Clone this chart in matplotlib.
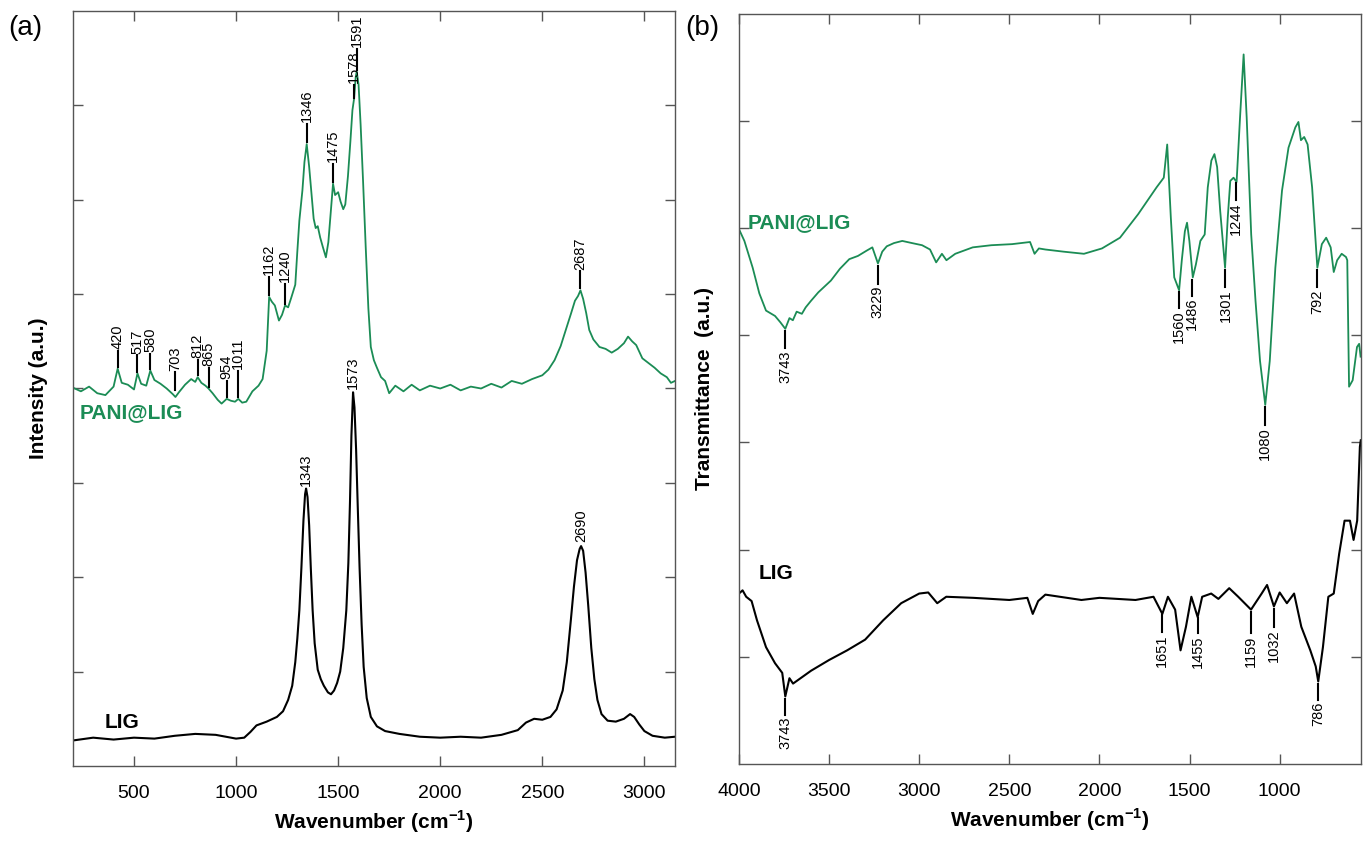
import numpy as np
import matplotlib
matplotlib.use("Agg")
import matplotlib.pyplot as plt

plt.rcParams['font.family'] = ['Liberation Sans', 'DejaVu Sans']
plt.rcParams['mathtext.fontset'] = 'custom'
plt.rcParams['mathtext.rm'] = 'Liberation Sans'
plt.rcParams['mathtext.bf'] = 'Liberation Sans:bold'

GREEN = '#1b8c55'
SPINE = '#555555'

# ---- (a) Raman ----
raman_pani_x = [200, 240, 280, 320, 360, 400, 420, 440, 470, 500, 517, 535, 560, 580, 600,
                630, 660, 690, 703, 720, 750, 780, 800, 812, 830, 850, 865, 885, 910, 929,
                954, 975, 995, 1011, 1030, 1050, 1080, 1110, 1130, 1150, 1162, 1175, 1190,
                1210, 1225, 1240, 1255, 1270, 1290, 1300, 1310, 1325, 1335, 1346, 1358, 1370,
                1380, 1390, 1400, 1412, 1425, 1440, 1452, 1465, 1475, 1485, 1500, 1512, 1525,
                1535, 1548, 1560, 1570, 1578, 1586, 1591, 1600, 1610, 1622, 1635, 1648, 1660,
                1675, 1690, 1710, 1730, 1750, 1780, 1820, 1860, 1900, 1950, 2000, 2050, 2100,
                2150, 2200, 2250, 2300, 2350, 2400, 2450, 2500, 2530, 2560, 2590, 2615, 2640,
                2660, 2675, 2687, 2700, 2715, 2730, 2750, 2780, 2810, 2840, 2870, 2900, 2920,
                2940, 2960, 2990, 3020, 3050, 3080, 3110, 3130, 3150]
raman_pani_y = [4.01, 3.97, 4.02, 3.95, 3.93, 4.02, 4.21, 4.06, 4.04, 3.99, 4.16, 4.05, 4.03,
                4.19, 4.09, 4.05, 4.00, 3.94, 3.91, 3.96, 4.04, 4.10, 4.07, 4.12, 4.06, 4.03,
                4.00, 3.95, 3.88, 3.84, 3.89, 3.87, 3.86, 3.89, 3.85, 3.86, 3.97, 4.03, 4.10,
                4.40, 4.97, 4.92, 4.88, 4.72, 4.78, 4.88, 4.86, 4.96, 5.10, 5.45, 5.78, 6.10,
                6.40, 6.59, 6.35, 6.05, 5.80, 5.70, 5.72, 5.60, 5.50, 5.39, 5.55, 5.90, 6.17,
                6.05, 6.08, 5.98, 5.90, 5.95, 6.25, 6.62, 6.95, 7.07, 7.30, 7.36, 7.22, 6.80,
                6.20, 5.50, 4.85, 4.44, 4.30, 4.22, 4.12, 4.08, 3.95, 4.03, 3.97, 4.04, 3.98,
                4.03, 4.00, 4.04, 3.98, 4.02, 4.00, 4.05, 4.01, 4.08, 4.05, 4.10, 4.14, 4.20,
                4.30, 4.45, 4.62, 4.79, 4.93, 4.98, 5.04, 4.95, 4.80, 4.62, 4.52, 4.44, 4.42,
                4.38, 4.42, 4.48, 4.55, 4.50, 4.46, 4.32, 4.27, 4.22, 4.16, 4.12, 4.06, 4.08]

raman_lig_x = [200, 300, 400, 500, 600, 700, 800, 900, 1000, 1040, 1070, 1100, 1150, 1200,
               1230, 1255, 1275, 1290, 1300, 1310, 1320, 1330, 1338, 1343, 1350, 1358, 1366,
               1375, 1385, 1400, 1415, 1430, 1450, 1465, 1480, 1495, 1510, 1525, 1540, 1550,
               1558, 1565, 1573, 1580, 1588, 1596, 1605, 1615, 1625, 1640, 1660, 1690, 1730,
               1800, 1900, 2000, 2100, 2200, 2300, 2380, 2420, 2460, 2500, 2540, 2570, 2600,
               2620, 2640, 2655, 2670, 2683, 2690, 2700, 2712, 2725, 2740, 2755, 2770, 2790,
               2820, 2860, 2900, 2930, 2950, 2975, 3000, 3040, 3100, 3150]
raman_lig_y = [0.27, 0.30, 0.28, 0.30, 0.29, 0.32, 0.34, 0.33, 0.29, 0.30, 0.36, 0.43, 0.47,
               0.52, 0.58, 0.70, 0.85, 1.10, 1.35, 1.65, 2.10, 2.60, 2.88, 2.94, 2.85, 2.55,
               2.10, 1.65, 1.30, 1.02, 0.92, 0.85, 0.78, 0.76, 0.80, 0.88, 1.00, 1.25, 1.65,
               2.15, 2.80, 3.50, 3.96, 3.80, 3.35, 2.75, 2.10, 1.50, 1.05, 0.72, 0.52, 0.42,
               0.37, 0.34, 0.31, 0.30, 0.31, 0.30, 0.33, 0.38, 0.46, 0.50, 0.49, 0.52, 0.60,
               0.80, 1.10, 1.55, 1.90, 2.18, 2.30, 2.33, 2.28, 2.05, 1.70, 1.25, 0.92, 0.70,
               0.55, 0.48, 0.47, 0.50, 0.55, 0.52, 0.44, 0.37, 0.32, 0.30, 0.31]

# peak labels: (value, line start, line end)
raman_pani_peaks = [(420, 4.23, 4.40), (517, 4.18, 4.35), (580, 4.21, 4.37), (703, 3.98, 4.17),
                    (812, 4.14, 4.30), (865, 4.02, 4.22), (954, 3.91, 4.08), (1011, 3.91, 4.19),
                    (1162, 4.99, 5.18), (1240, 4.90, 5.11), (1346, 6.61, 6.80),
                    (1475, 6.19, 6.38), (1578, 7.08, 7.22), (1591, 7.38, 7.60),
                    (2687, 5.06, 5.24)]
raman_lig_peaks = [(1343, 2.97), (1573, 3.99), (2690, 2.37)]

# ---- (b) FTIR ----
ftir_pani_x = [4000, 3970, 3924, 3887, 3850, 3800, 3770, 3743, 3720, 3701, 3680, 3651, 3630,
               3601, 3560, 3490, 3440, 3388, 3340, 3291, 3260, 3229, 3205, 3180, 3140, 3094,
               3040, 2984, 2940, 2906, 2874, 2849, 2800, 2703, 2600, 2485, 2385, 2360, 2336,
               2300, 2200, 2086, 1986, 1886, 1785, 1683, 1643, 1624, 1604, 1585, 1558, 1543,
               1526, 1514, 1501, 1482, 1465, 1440, 1416, 1399, 1379, 1362, 1347, 1330, 1303,
               1288, 1274, 1256, 1239, 1220, 1200, 1183, 1158, 1134, 1109, 1080, 1055, 1024,
               987, 951, 913, 896, 882, 864, 845, 820, 803, 791, 766, 742, 717, 700, 681, 656,
               632, 625, 615, 595, 571, 559, 551]
ftir_pani_y = [4.99, 4.88, 4.63, 4.39, 4.23, 4.18, 4.12, 4.06, 4.16, 4.14, 4.22, 4.20, 4.26,
               4.32, 4.40, 4.51, 4.62, 4.71, 4.74, 4.79, 4.82, 4.67, 4.78, 4.83, 4.86, 4.88,
               4.86, 4.84, 4.80, 4.68, 4.76, 4.70, 4.76, 4.82, 4.84, 4.85, 4.87, 4.76, 4.81,
               4.80, 4.78, 4.76, 4.81, 4.91, 5.13, 5.38, 5.47, 5.78, 5.10, 4.54, 4.42, 4.70,
               4.97, 5.05, 4.88, 4.54, 4.66, 4.88, 4.94, 5.38, 5.63, 5.69, 5.57, 5.16, 4.63,
               5.10, 5.44, 5.47, 5.43, 6.03, 6.62, 6.03, 4.94, 4.32, 3.76, 3.35, 3.76, 4.63,
               5.35, 5.75, 5.94, 5.99, 5.82, 5.85, 5.78, 5.38, 4.94, 4.63, 4.85, 4.91, 4.82,
               4.59, 4.70, 4.76, 4.73, 4.70, 3.52, 3.58, 3.89, 3.92, 3.80]

ftir_lig_x = [4000, 3980, 3960, 3930, 3900, 3850, 3800, 3760, 3743, 3720, 3700, 3650, 3600,
              3500, 3400, 3300, 3200, 3100, 3000, 2950, 2900, 2850, 2700, 2500, 2400, 2370,
              2340, 2300, 2100, 2000, 1800, 1700, 1651, 1620, 1580, 1550, 1520, 1490, 1455,
              1430, 1380, 1340, 1280, 1230, 1159, 1100, 1070, 1032, 1000, 960, 920, 880, 830,
              800, 786, 760, 730, 700, 670, 640, 610, 590, 570, 555, 550]
ftir_lig_y = [1.59, 1.62, 1.56, 1.52, 1.34, 1.09, 0.94, 0.85, 0.63, 0.80, 0.75, 0.81, 0.87,
              0.97, 1.06, 1.16, 1.34, 1.50, 1.59, 1.60, 1.50, 1.56, 1.55, 1.53, 1.55, 1.40,
              1.52, 1.58, 1.53, 1.55, 1.53, 1.56, 1.40, 1.56, 1.44, 1.06, 1.28, 1.56, 1.37,
              1.56, 1.59, 1.54, 1.64, 1.56, 1.44, 1.59, 1.67, 1.47, 1.60, 1.50, 1.59, 1.28,
              1.06, 0.91, 0.77, 1.09, 1.56, 1.59, 1.96, 2.27, 2.27, 2.09, 2.27, 2.96, 3.02]

ftir_pani_peaks = [(3743, 4.04, 3.88), (3229, 4.65, 4.48), (1560, 4.40, 4.25), (1486, 4.52, 4.37),
                   (1301, 4.61, 4.45), (1244, 5.42, 5.26), (1080, 3.33, 3.16), (792, 4.61, 4.45)]
ftir_lig_peaks = [(3743, 0.61, 0.46), (1651, 1.39, 1.23), (1455, 1.36, 1.22), (1159, 1.42, 1.22),
                  (1032, 1.45, 1.28), (786, 0.75, 0.60)]


def style_axes(ax):
    for s in ax.spines.values():
        s.set_color(SPINE)
        s.set_linewidth(1.0)
    ax.tick_params(direction='in', length=7, width=1.0, color=SPINE,
                   top=True, right=True, labelsize=14)
    ax.tick_params(axis='x', pad=14)
    ax.tick_params(axis='y', pad=9)
    ax.set_yticklabels([])


fig = plt.figure(figsize=(13.7, 8.41), dpi=100)

# panel (a)
ax1 = fig.add_axes([0.0531, 0.0892, 0.4396, 0.8977])
ax1.plot(raman_pani_x, raman_pani_y, color=GREEN, lw=1.3)
ax1.plot(raman_lig_x, raman_lig_y, color='black', lw=1.5)
ax1.set_xlim(200, 3150)
ax1.set_ylim(0, 8)
ax1.set_xticks([500, 1000, 1500, 2000, 2500, 3000])
ax1.set_yticks([1, 2, 3, 4, 5, 6, 7])
style_axes(ax1)
for v, y0, y1 in raman_pani_peaks:
    ax1.plot([v, v], [y0, y1], color='black', lw=1.5)
    ax1.text(v, y1 + 0.02, str(v), rotation=90, ha='center', va='bottom', fontsize=10.5)
for v, y0 in raman_lig_peaks:
    ax1.text(v, y0, str(v), rotation=90, ha='center', va='bottom', fontsize=10.5)
ax1.text(236, 3.74, 'PANI@LIG', color=GREEN, fontsize=15, fontweight='bold', va='center')
ax1.text(358, 0.46, 'LIG', color='black', fontsize=15, fontweight='bold', va='center')
ax1.set_xlabel(r'Wavenumber (cm$^{\mathbf{-1}}$)', fontsize=15, fontweight='bold', labelpad=4)
ax1.set_ylabel('Intensity (a.u.)', fontsize=15, fontweight='bold', labelpad=9)

# panel (b)
ax2 = fig.add_axes([0.5394, 0.0916, 0.4540, 0.8921])
ax2.plot(ftir_pani_x, ftir_pani_y, color=GREEN, lw=1.3)
ax2.plot(ftir_lig_x, ftir_lig_y, color='black', lw=1.5)
ax2.set_xlim(4000, 549)
ax2.set_ylim(0, 7)
ax2.set_xticks([4000, 3500, 3000, 2500, 2000, 1500, 1000])
ax2.set_yticks([1, 2, 3, 4, 5, 6])
style_axes(ax2)
for v, y0, y1 in ftir_pani_peaks + ftir_lig_peaks:
    ax2.plot([v, v], [y0, y1], color='black', lw=1.5)
    ax2.text(v, y1 - 0.02, str(v), rotation=90, ha='center', va='top', fontsize=10.5)
ax2.text(3950, 5.05, 'PANI@LIG', color=GREEN, fontsize=15, fontweight='bold', va='center')
ax2.text(3889, 1.78, 'LIG', color='black', fontsize=15, fontweight='bold', va='center')
ax2.set_xlabel(r'Wavenumber (cm$^{\mathbf{-1}}$)', fontsize=15, fontweight='bold', labelpad=4)
ax2.set_ylabel('Transmittance  (a.u.)', fontsize=15, fontweight='bold', labelpad=9)

fig.text(0.006, 0.967, '(a)', fontsize=20, va='center')
fig.text(0.5, 0.967, '(b)', fontsize=20, va='center')

fig.savefig('out.png', dpi=100)
